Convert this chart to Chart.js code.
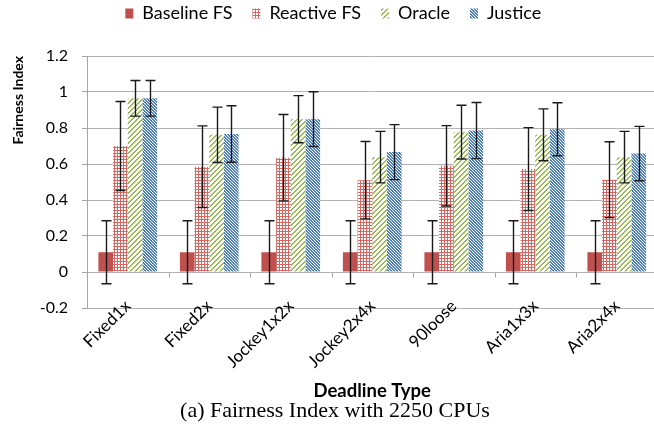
<!DOCTYPE html>
<html>
<head>
<meta charset="utf-8">
<script src="https://cdn.jsdelivr.net/npm/chart.js@4.4.0/dist/chart.umd.min.js"></script>
<style>
  html, body { margin: 0; padding: 0; background: #fff; }
  #wrap { position: relative; width: 654px; height: 430px; overflow: hidden; }
  #chart { position: absolute; left: 0; top: 0; }
  #caption { position: absolute; left: 0; width: 670px; top: 397px; text-align: center;
             font: 22px 'Liberation Serif', 'Times New Roman', serif; color: #000; }
</style>
</head>
<body>
<div id="wrap">
  <canvas id="chart" width="667" height="430"></canvas>
  <div id="caption">(a) Fairness Index with 2250 CPUs</div>
</div>
<script>
// Data
const categories = ['Fixed1x', 'Fixed2x', 'Jockey1x2x', 'Jockey2x4x', '90loose', 'Aria1x3x', 'Aria2x4x'];
const baselineFS = [0.11, 0.11, 0.11, 0.11, 0.11, 0.11, 0.11];
const baselineErr = [0.175, 0.175, 0.175, 0.175, 0.175, 0.175, 0.175];
const reactiveFS = [0.70, 0.585, 0.635, 0.51, 0.59, 0.572, 0.513];
const reactiveErr = [0.247, 0.227, 0.24, 0.215, 0.223, 0.23, 0.211];
const oracle = [0.965, 0.762, 0.849, 0.638, 0.777, 0.762, 0.638];
const oracleErr = [0.099, 0.154, 0.131, 0.143, 0.149, 0.144, 0.143];
const justice = [0.965, 0.767, 0.849, 0.666, 0.786, 0.793, 0.658];
const justiceErr = [0.099, 0.157, 0.152, 0.153, 0.156, 0.147, 0.151];
const yTicks = [-0.2, 0, 0.2, 0.4, 0.6, 0.8, 1, 1.2];

const errors = [baselineErr, reactiveErr, oracleErr, justiceErr];

// Fill patterns (pixel tiles)
function makePattern(size, paint) {
  const tile = document.createElement('canvas');
  tile.width = size;
  tile.height = size;
  const tctx = tile.getContext('2d');
  tctx.fillStyle = '#fff';
  tctx.fillRect(0, 0, size, size);
  for (let y = 0; y < size; y++) {
    for (let x = 0; x < size; x++) {
      const col = paint(x, y);
      if (col) {
        tctx.fillStyle = col;
        tctx.fillRect(x, y, 1, 1);
      }
    }
  }
  return tctx.createPattern(tile, 'repeat');
}

const gridRed = makePattern(3, (x, y) => (x === 0 || y === 0) ? '#d66662' : null);
const stripeGreen = makePattern(5, (x, y) => ((x + y) % 5 < 2) ? '#9bbb59' : null);
const hatchBlue = makePattern(3, (x, y) => (((x - y) % 3 + 3) % 3 < 2) ? '#4f81bd' : null);

// Error bars drawn through the scales
const errorBars = {
  id: 'errorBars',
  afterDatasetsDraw(chart) {
    const ctx = chart.ctx;
    const yScale = chart.scales.y;
    ctx.save();
    ctx.strokeStyle = '#1a1a1a';
    ctx.lineWidth = 1.4;
    chart.data.datasets.forEach((ds, d) => {
      const meta = chart.getDatasetMeta(d);
      meta.data.forEach((bar, i) => {
        const v = ds.data[i];
        const e = errors[d][i];
        const top = yScale.getPixelForValue(v + e);
        const bot = yScale.getPixelForValue(v - e);
        const x = Math.round(bar.x) + 0.5;
        ctx.beginPath();
        ctx.moveTo(x, top);
        ctx.lineTo(x, bot);
        ctx.moveTo(x - 5, top);
        ctx.lineTo(x + 5, top);
        ctx.moveTo(x - 5, bot);
        ctx.lineTo(x + 5, bot);
        ctx.stroke();
      });
    });
    ctx.restore();
  }
};

// Small tick marks on the zero line between categories
const zeroTicks = {
  id: 'zeroTicks',
  beforeDatasetsDraw(chart) {
    const ctx = chart.ctx;
    const xScale = chart.scales.x;
    const y0 = Math.round(chart.scales.y.getPixelForValue(0)) + 0.5;
    ctx.save();
    ctx.strokeStyle = '#a6a6a6';
    ctx.lineWidth = 1;
    ctx.beginPath();
    for (let i = 1; i <= categories.length; i++) {
      const xb = Math.round((xScale.getPixelForValue(i - 1) + xScale.getPixelForValue(i)) / 2) + 0.5;
      ctx.moveTo(xb, y0);
      ctx.lineTo(xb, y0 + 5);
    }
    ctx.stroke();
    ctx.restore();
  }
};

// Push the plot area down below the legend
const legendGap = {
  id: 'legendGap',
  beforeInit(chart) {
    const fit = chart.legend.fit;
    chart.legend.fit = function () {
      fit.bind(chart.legend)();
      this.height += 23.5;
    };
  }
};

const font = "Lato, 'Open Sans', sans-serif";

new Chart(document.getElementById('chart'), {
  type: 'bar',
  data: {
    labels: categories,
    datasets: [
      { label: 'Baseline FS', data: baselineFS, backgroundColor: '#c0504d' },
      { label: 'Reactive FS', data: reactiveFS, backgroundColor: gridRed },
      { label: 'Oracle', data: oracle, backgroundColor: stripeGreen },
      { label: 'Justice', data: justice, backgroundColor: hatchBlue }
    ]
  },
  options: {
    responsive: false,
    animation: false,
    devicePixelRatio: 1,
    layout: { padding: { left: 9, right: 9.5, top: -15.5, bottom: 27.9 } },
    datasets: { bar: { barPercentage: 1, categoryPercentage: 0.72 } },
    plugins: {
      legend: {
        position: 'top',
        labels: {
          boxWidth: 8,
          boxHeight: 10,
          padding: 20,
          color: '#000',
          font: { family: font, size: 18 }
        }
      },
      tooltip: { enabled: false }
    },
    scales: {
      x: {
        grid: { display: false, drawTicks: false },
        border: { display: false },
        ticks: {
          color: '#000',
          font: { family: font, size: 17 },
          minRotation: 45,
          maxRotation: 45,
          padding: -12
        },
        title: {
          display: true,
          text: 'Deadline Type',
          color: '#000',
          font: { family: font, size: 18.5, weight: 'bold' },
          padding: 0
        },
        afterFit(scale) {
          scale.height = 94.1;
          // let the rotated labels rise a little above the plot bottom
          scale._computeLabelArea = () => undefined;
        }
      },
      y: {
        min: -0.2,
        max: 1.2,
        afterBuildTicks(scale) { scale.ticks = yTicks.map(v => ({ value: v })); },
        grid: { color: '#b3b3b3', tickColor: '#a6a6a6', tickLength: 5 },
        border: { display: true, color: '#a6a6a6' },
        ticks: {
          color: '#000',
          font: { family: font, size: 16 },
          padding: 14,
          callback: v => String(Math.round(v * 10) / 10)
        },
        title: {
          display: true,
          text: 'Fairness Index',
          align: 'end',
          color: '#000',
          font: { family: font, size: 14, weight: 'bold' },
          padding: { top: 1, bottom: 0 }
        },
        afterFit(scale) { scale.width = 78; }
      }
    }
  },
  plugins: [errorBars, zeroTicks, legendGap]
});
</script>
</body>
</html>
